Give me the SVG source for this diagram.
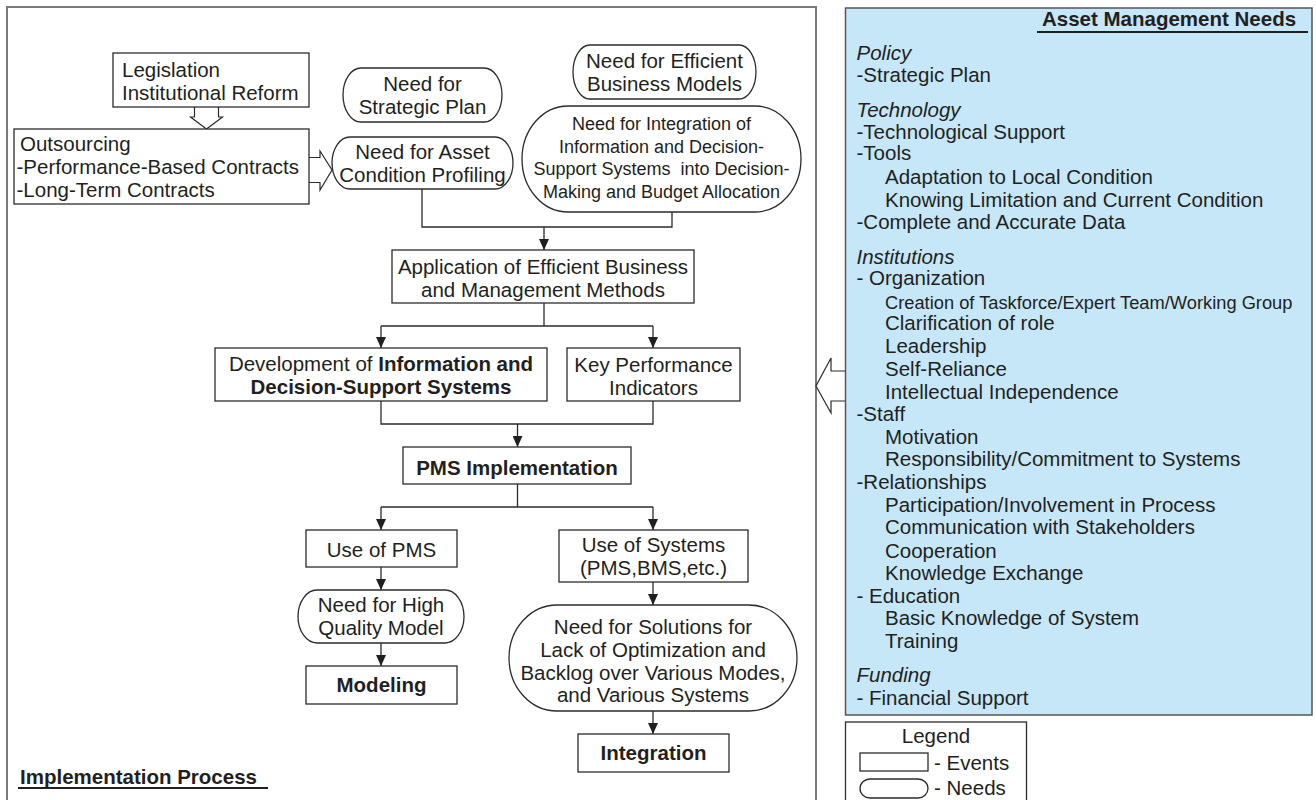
<svg xmlns="http://www.w3.org/2000/svg" width="1316" height="800" viewBox="0 0 1316 800">
<style>
.t{font-family:"Liberation Sans",Arial,Helvetica,sans-serif;font-size:20.5px;fill:#231f20}
.s18{font-size:18px}
.b{font-weight:bold}
.i{font-style:italic}
.m{text-anchor:middle}
.box{fill:#fff;stroke:#2b2b2b;stroke-width:1.3}
.conn{fill:none;stroke:#2b2b2b;stroke-width:1.3}
.hollow{fill:#fff;stroke:#2b2b2b;stroke-width:1.2;stroke-linejoin:miter}
.ul{stroke:#231f20;stroke-width:2}
</style>
<defs>
<marker id="ah" markerUnits="userSpaceOnUse" markerWidth="11" markerHeight="10" refX="11" refY="5" orient="auto">
<path d="M0,0 L11,5 L0,10 Z" fill="#231f20"/>
</marker>
</defs>
<rect width="1316" height="800" fill="#fff"/>

<!-- frames -->
<g id="implementation-frame">
<rect x="7" y="7" width="809" height="810" fill="none" stroke="#7a7a7a" stroke-width="2"/>
<text class="t b" x="20" y="784">Implementation Process</text>
<line class="ul" x1="18" y1="788" x2="268" y2="788"/>
</g>

<!-- hollow arrows -->
<g id="hollow-arrows">
<path class="hollow" d="M194.5,107 L194.5,117 L190.5,117 L206.5,129 L222.5,117 L218.5,117 L218.5,107"/>
<path class="hollow" d="M309,157.5 L320,157.5 L320,151 L332,170 L320,190 L320,182.5 L309,182.5"/>
<path class="hollow" d="M846,371 L831,371 L831,358 L816,386 L831,413 L831,401 L846,401"/>
</g>

<g id="asset-management-needs">
<rect x="845.5" y="8" width="466.5" height="707" fill="#c6e7f8" stroke="#555" stroke-width="1.5"/>
<text class="t b" x="1042" y="26">Asset Management Needs</text>
<line class="ul" x1="1037" y1="32" x2="1308" y2="32"/>
<text class="t i" x="856.5" y="60">Policy</text>
<text class="t" x="856.5" y="82">-Strategic Plan</text>
<text class="t i" x="856.5" y="117">Technology</text>
<text class="t" x="856.5" y="139">-Technological Support</text>
<text class="t" x="856.5" y="160">-Tools</text>
<text class="t" x="885" y="184">Adaptation to Local Condition</text>
<text class="t" x="885" y="207">Knowing Limitation and Current Condition</text>
<text class="t" x="856.5" y="229">-Complete and Accurate Data</text>
<text class="t i" x="856.5" y="264">Institutions</text>
<text class="t" x="856.5" y="285">- Organization</text>
<text class="t" x="885" y="309" style="font-size:18.3px">Creation of Taskforce/Expert Team/Working Group</text>
<text class="t" x="885" y="330">Clarification of role</text>
<text class="t" x="885" y="353">Leadership</text>
<text class="t" x="885" y="376">Self-Reliance</text>
<text class="t" x="885" y="399">Intellectual Independence</text>
<text class="t" x="856.5" y="421">-Staff</text>
<text class="t" x="885" y="444">Motivation</text>
<text class="t" x="885" y="466">Responsibility/Commitment to Systems</text>
<text class="t" x="856.5" y="489">-Relationships</text>
<text class="t" x="885" y="512">Participation/Involvement in Process</text>
<text class="t" x="885" y="534">Communication with Stakeholders</text>
<text class="t" x="885" y="558">Cooperation</text>
<text class="t" x="885" y="580">Knowledge Exchange</text>
<text class="t" x="856.5" y="603">- Education</text>
<text class="t" x="885" y="625">Basic Knowledge of System</text>
<text class="t" x="885" y="648">Training</text>
<text class="t i" x="856.5" y="682">Funding</text>
<text class="t" x="856.5" y="705">- Financial Support</text>
</g>

<g id="legend">
<rect x="845.5" y="722" width="181" height="95" fill="#fff" stroke="#2b2b2b" stroke-width="1.3"/>
<text class="t m" x="936" y="743">Legend</text>
<rect class="box" x="860" y="753" width="68" height="18"/>
<text class="t" x="934" y="770">- Events</text>
<rect class="box" x="860" y="779" width="68" height="19" rx="10" ry="9.5"/>
<text class="t" x="934" y="795">- Needs</text>
</g>

<!-- connectors -->
<g id="connectors">
<path class="conn" d="M422,189 L422,227 L672,227 L672,212"/>
<path class="conn" d="M544,227 L544,250" marker-end="url(#ah)"/>
<path class="conn" d="M544,303 L544,326"/>
<path class="conn" d="M381,326 L653,326"/>
<path class="conn" d="M381,326 L381,348" marker-end="url(#ah)"/>
<path class="conn" d="M653,326 L653,348" marker-end="url(#ah)"/>
<path class="conn" d="M381,401 L381,424 L653,424 L653,401"/>
<path class="conn" d="M517.5,424 L517.5,447" marker-end="url(#ah)"/>
<path class="conn" d="M517.5,484 L517.5,507"/>
<path class="conn" d="M381,507 L653,507"/>
<path class="conn" d="M381,507 L381,530" marker-end="url(#ah)"/>
<path class="conn" d="M653,507 L653,530" marker-end="url(#ah)"/>
<path class="conn" d="M381,567 L381,590" marker-end="url(#ah)"/>
<path class="conn" d="M381,643 L381,666" marker-end="url(#ah)"/>
<path class="conn" d="M653,582 L653,605" marker-end="url(#ah)"/>
<path class="conn" d="M653,711 L653,734" marker-end="url(#ah)"/>
</g>

<!-- nodes -->
<g id="legislation">
<rect class="box" x="113" y="53" width="196" height="54"/>
<text class="t" x="122" y="77">Legislation</text>
<text class="t" x="122" y="100">Institutional Reform</text>
</g>
<g id="outsourcing">
<rect class="box" x="14" y="129" width="295" height="75"/>
<text class="t" x="20" y="151">Outsourcing</text>
<text class="t" x="16.5" y="174">-Performance-Based Contracts</text>
<text class="t" x="16.5" y="197">-Long-Term Contracts</text>
</g>
<g id="need-strategic-plan">
<rect class="box" x="343" y="68" width="159" height="54" rx="18" ry="27"/>
<text class="t m" x="422.5" y="91">Need for</text>
<text class="t m" x="422.5" y="114">Strategic Plan</text>
</g>
<g id="need-asset-condition">
<rect class="box" x="332" y="137" width="181" height="52" rx="18" ry="26"/>
<text class="t m" x="422.5" y="159">Need for Asset</text>
<text class="t m" x="422.5" y="182">Condition Profiling</text>
</g>
<g id="need-efficient-business">
<rect class="box" x="573" y="45" width="183" height="54" rx="17" ry="27"/>
<text class="t m" x="664.5" y="68">Need for Efficient</text>
<text class="t m" x="664.5" y="91">Business Models</text>
</g>
<g id="need-integration-info">
<rect class="box" x="522" y="106" width="279" height="106" rx="46" ry="53"/>
<text class="t s18 m" x="661.5" y="130">Need for Integration of</text>
<text class="t s18 m" x="661.5" y="152.5">Information and Decision-</text>
<text class="t s18 m" x="661.5" y="175" style="white-space:pre">Support Systems  into Decision-</text>
<text class="t s18 m" x="661.5" y="197.5">Making and Budget Allocation</text>
</g>
<g id="application">
<rect class="box" x="392" y="250" width="302" height="53"/>
<text class="t m" x="543" y="274">Application of Efficient Business</text>
<text class="t m" x="543" y="296.5">and Management Methods</text>
</g>
<g id="development">
<rect class="box" x="215" y="348" width="332" height="53"/>
<text class="t m" x="381" y="371">Development of <tspan class="b">Information and</tspan></text>
<text class="t b m" x="381" y="394">Decision-Support Systems</text>
</g>
<g id="kpi">
<rect class="box" x="567" y="348" width="173" height="53"/>
<text class="t m" x="653.5" y="372">Key Performance</text>
<text class="t m" x="653.5" y="395">Indicators</text>
</g>
<g id="pms-implementation">
<rect class="box" x="403" y="447" width="228" height="37"/>
<text class="t b m" x="517" y="474.5">PMS Implementation</text>
</g>
<g id="use-of-pms">
<rect class="box" x="306" y="530" width="151" height="37"/>
<text class="t m" x="381.5" y="557">Use of PMS</text>
</g>
<g id="need-high-quality">
<rect class="box" x="298" y="590" width="166" height="53" rx="19" ry="26.5"/>
<text class="t m" x="381" y="612">Need for High</text>
<text class="t m" x="381" y="635">Quality Model</text>
</g>
<g id="modeling">
<rect class="box" x="306" y="666" width="151" height="38"/>
<text class="t b m" x="381.5" y="692">Modeling</text>
</g>
<g id="use-of-systems">
<rect class="box" x="559" y="530" width="189" height="52"/>
<text class="t m" x="653.5" y="552">Use of Systems</text>
<text class="t m" x="653.5" y="575">(PMS,BMS,etc.)</text>
</g>
<g id="need-solutions">
<rect class="box" x="509" y="605" width="288" height="106" rx="48" ry="53"/>
<text class="t m" x="653" y="634">Need for Solutions for</text>
<text class="t m" x="653" y="657">Lack of Optimization and</text>
<text class="t m" x="653" y="680">Backlog over Various Modes,</text>
<text class="t m" x="653" y="702">and Various Systems</text>
</g>
<g id="integration">
<rect class="box" x="578" y="734" width="151" height="38"/>
<text class="t b m" x="653.5" y="760">Integration</text>
</g>
</svg>
